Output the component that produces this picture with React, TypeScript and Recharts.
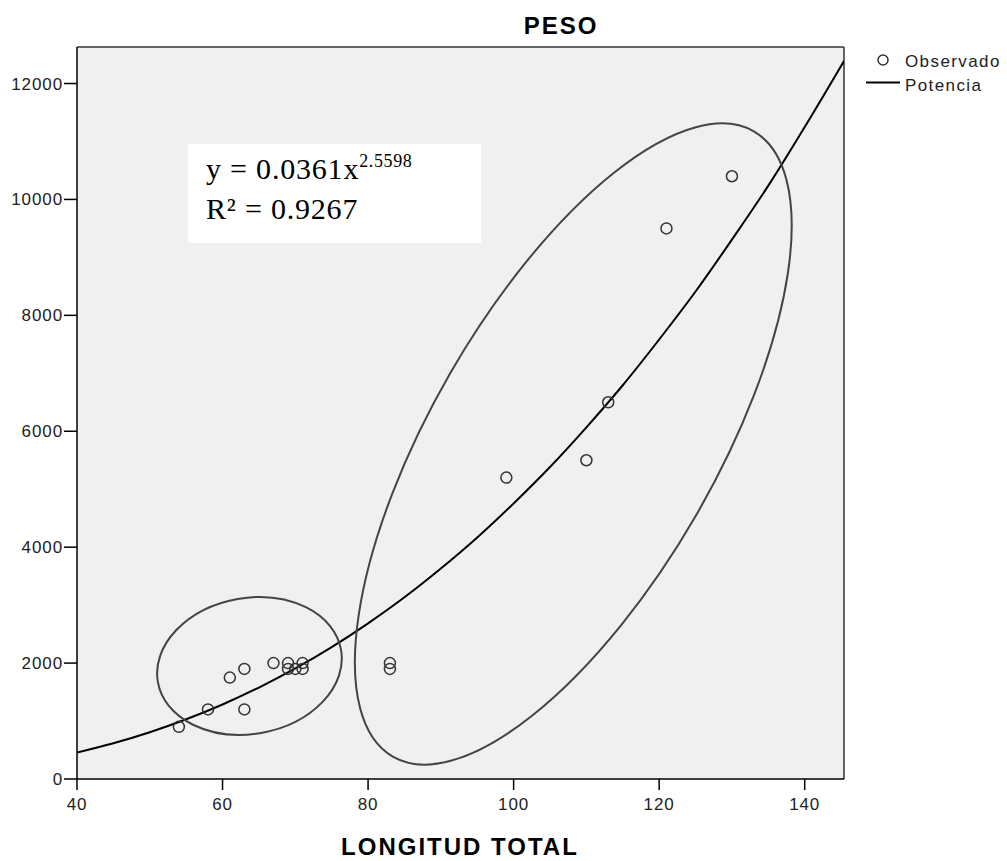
import * as React from "react";
import {
  ComposedChart,
  Scatter,
  Line,
  XAxis,
  YAxis,
  CartesianGrid,
  ReferenceLine,
  ReferenceDot,
} from "recharts";

// observed cases (LONGITUD TOTAL vs PESO)
const longitud = [54, 58, 61, 63, 63, 67, 69, 69, 70, 71, 71, 83, 83, 99, 110, 113, 121, 130];
const peso = [900, 1200, 1750, 1900, 1200, 2000, 2000, 1900, 1900, 2000, 1900, 2000, 1900, 5200, 5500, 6500, 9500, 10400];

// fitted power curve
const curvaLongitud = [40, 45, 50, 55, 60, 65, 70, 75, 80, 85, 90, 95, 100, 105, 110, 115, 120, 125, 130, 135, 140, 145.4];
const curvaPeso = [456, 616, 806, 1030, 1286, 1578, 1908, 2276, 2686, 3135, 3631, 4167, 4755, 5383, 6068, 6794, 7583, 8411, 9307, 10238, 11250, 12390];

const xTicks = [40, 60, 80, 100, 120, 140];
const yTicks = [0, 2000, 4000, 6000, 8000, 10000, 12000];

const observados = longitud.map((x, i) => ({ x, y: peso[i] }));
const potencia = curvaLongitud.map((x, i) => ({ x, y: curvaPeso[i] }));

const SANS = '"Liberation Sans", Arial, sans-serif';
const SERIF = '"Liberation Serif", "Times New Roman", serif';

const tickStyle = { fontFamily: SANS, fontSize: 17, fill: "#222", letterSpacing: 0.9 };

const Circulo = (props: any) => (
  <circle cx={props.cx} cy={props.cy} r={5.5} fill="none" stroke="#333" strokeWidth={1.5} />
);

// ellipse annotation centred on a data point, radii in pixels
const elipse = (rx: number, ry: number, angle: number) => (props: any) => (
  <ellipse
    cx={props.cx}
    cy={props.cy}
    rx={rx}
    ry={ry}
    transform={`rotate(${angle} ${props.cx} ${props.cy})`}
    fill="none"
    stroke="#444"
    strokeWidth={2}
  />
);

export default function App() {
  return (
    <div style={{ position: "absolute", left: 0, top: 0, width: 1007, height: 861, background: "#fff" }}>
      <ComposedChart
        width={1007}
        height={861}
        margin={{ top: 47, right: 163, bottom: 52, left: 0 }}
      >
        <CartesianGrid fill="#f0f0f0" horizontal={false} vertical={false} />
        <XAxis
          type="number"
          dataKey="x"
          domain={[40, 145.4]}
          ticks={xTicks}
          allowDataOverflow
          height={30}
          tickSize={11}
          tickMargin={8}
          axisLine={{ stroke: "#000", strokeWidth: 1.5 }}
          tickLine={{ stroke: "#000", strokeWidth: 1.5 }}
          tick={tickStyle}
        />
        <YAxis
          type="number"
          dataKey="y"
          domain={[0, 12630]}
          ticks={yTicks}
          allowDataOverflow
          width={77}
          tickSize={13}
          tickMargin={1}
          axisLine={{ stroke: "#000", strokeWidth: 1.5 }}
          tickLine={{ stroke: "#000", strokeWidth: 1.5 }}
          tick={tickStyle}
        />
        <ReferenceLine y={12630} stroke="#333" strokeWidth={1.5} />
        <ReferenceLine x={145.4} stroke="#333" strokeWidth={1.5} />
        <ReferenceDot x={63.7} y={1950} shape={elipse(93, 68, -10)} />
        <ReferenceDot x={108.2} y={5780} shape={elipse(361, 142, -60)} />
        <Line
          data={potencia}
          dataKey="y"
          type="monotone"
          stroke="#000"
          strokeWidth={2}
          dot={false}
          activeDot={false}
          isAnimationActive={false}
        />
        <Scatter data={observados} dataKey="y" shape={Circulo} isAnimationActive={false} />
      </ComposedChart>
      <svg
        width={1007}
        height={861}
        style={{ position: "absolute", left: 0, top: 0, pointerEvents: "none" }}
      >
        <text x={561} y={34} textAnchor="middle" fontFamily={SANS} fontWeight="bold" fontSize={24} letterSpacing={2}>
          PESO
        </text>
        <text x={460} y={855} textAnchor="middle" fontFamily={SANS} fontWeight="bold" fontSize={24} letterSpacing={2}>
          LONGITUD TOTAL
        </text>
        <rect x={188} y={144} width={293} height={99} fill="#fff" />
        <text x={206} y={179} fontFamily={SERIF} fontSize={30} letterSpacing={0.8} fill="#000">
          y = 0.0361x
          <tspan dy={-12} fontSize={18} letterSpacing={0.6}>2.5598</tspan>
        </text>
        <text x={206} y={219} fontFamily={SERIF} fontSize={30} letterSpacing={0.8} fill="#000">
          R² = 0.9267
        </text>
        <circle cx={883} cy={60} r={5} fill="none" stroke="#333" strokeWidth={1.5} />
        <text x={905} y={67} fontFamily={SANS} fontSize={17} letterSpacing={1.4} fill="#222">
          Observado
        </text>
        <line x1={866} y1={82.5} x2={900} y2={82.5} stroke="#000" strokeWidth={2} />
        <text x={905} y={91} fontFamily={SANS} fontSize={17} letterSpacing={1.4} fill="#222">
          Potencia
        </text>
      </svg>
    </div>
  );
}
